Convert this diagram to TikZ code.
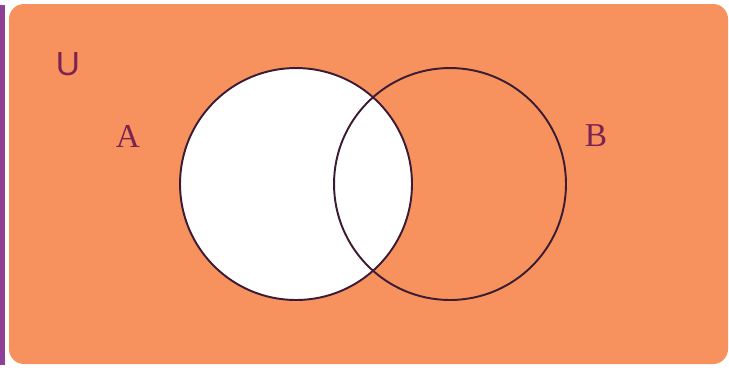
\documentclass[tikz,border=0pt]{standalone}
\usepackage{fontspec}
\setmainfont{Liberation Serif}
\setsansfont{Liberation Sans}
\usepackage{tikz}
\usetikzlibrary{positioning}
\definecolor{naranja}{HTML}{F7925F}
\definecolor{morado}{HTML}{8E3F97}
\definecolor{vino}{HTML}{7D2352}
\definecolor{borde}{HTML}{3B1C33}

\begin{document}
\begin{tikzpicture}[x=0.02cm,y=-0.02cm,
    conj/.style={circle,draw=borde,line width=1.1pt,minimum size=4.64cm,inner sep=0pt},
    etiq/.style={text=vino,font=\fontsize{19}{19}\selectfont}]
        \useasboundingbox (0,0) rectangle (729,370);
        % fondo
        \fill[morado] (0,5) rectangle (5,365);
        \fill[naranja,rounded corners=0.3cm] (9,4) rectangle (728,364);
        % conjuntos
        \node[conj,fill=white] (A) at (296,184) {};
        \node[conj] (B) at (450,184) {};
        % etiquetas
        \node[etiq,font=\sffamily\fontsize{19}{19}\selectfont] (U) at (68,64) {U};
        \node[etiq] (etA) at (128,136) {A};
        \node[etiq] (etB) at (596,136) {B};
      \end{tikzpicture}
\end{document}
